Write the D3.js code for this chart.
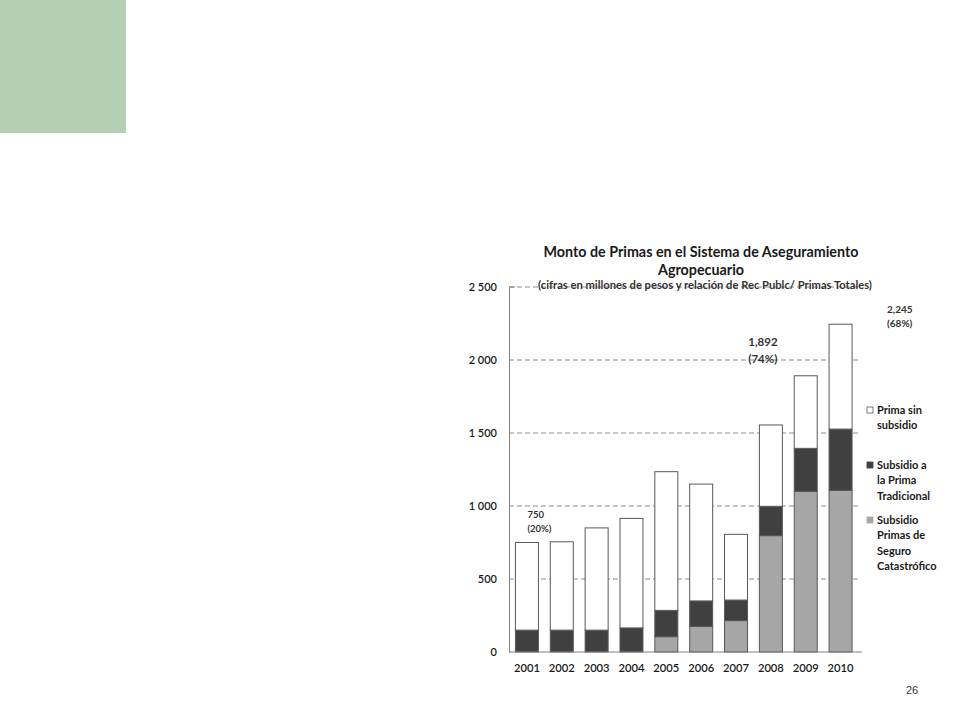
<!DOCTYPE html>
<html><head><meta charset="utf-8">
<script src="https://cdn.jsdelivr.net/npm/d3@7"></script>
<style>body{margin:0;background:#fff;} svg{display:block;}</style>
</head><body>
<svg id="c" width="960" height="720"></svg>
<script>
const years = ["2001","2002","2003","2004","2005","2006","2007","2008","2009","2010"];
const catastrofico = [0,0,0,0,105,175,215,797,1100,1107];
const tradicional = [150,150,150,165,180,175,141,201,295,420];
const sinSubsidio = [600,605,700,750,950,800,450,557,497,718];
const yTicks = [0,500,1000,1500,2000,2500];
const seriesNames = ["Subsidio Primas de Seguro Catastrófico","Subsidio a la Prima Tradicional","Prima sin subsidio"];
const annotations = [
  {year:"2001", lines:["750","(20%)"]},
  {year:"2009", lines:["1,892","(74%)"]},
  {year:"2010", lines:["2,245","(68%)"]}
];

const svg = d3.select("#c");
const font = "Lato, 'Open Sans', sans-serif";
svg.append("rect").attr("x",0).attr("y",0).attr("width",126).attr("height",133).attr("fill","#b3d1b2");

const x = d3.scaleBand().domain(years).range([509.5, 858]).paddingInner(0.34).paddingOuter(0.17);
const y = d3.scaleLinear().domain([0,2500]).range([652, 287]);

// gridlines
svg.append("g").selectAll("line").data(yTicks.filter(d=>d>0)).join("line")
  .attr("x1",509).attr("x2",858).attr("y1",d=>y(d)).attr("y2",d=>y(d))
  .attr("stroke","#8c8c8c").attr("stroke-width",1).attr("stroke-dasharray","5,3");

// title
const tg = svg.append("g").attr("font-family",font).attr("fill","#1a1a1a").attr("text-anchor","middle");
tg.append("text").attr("x",701).attr("y",257).attr("font-size",14.3).attr("font-weight","bold").text("Monto de Primas en el Sistema de Aseguramiento");
tg.append("text").attr("x",701).attr("y",275).attr("font-size",14.3).attr("font-weight","bold").text("Agropecuario");
tg.append("text").attr("x",705).attr("y",289).attr("font-size",11.2).attr("font-weight","bold").attr("fill","#333").text("(cifras en millones de pesos y relación de Rec Publc/ Primas Totales)");

// stacked data
const data = years.map((yr,i)=>({year:yr, cat:catastrofico[i], trad:tradicional[i], sin:sinSubsidio[i]}));
const stack = d3.stack().keys(["cat","trad","sin"])(data);
const fills = {cat:"#a6a6a6", trad:"#404040", sin:"#ffffff"};
const g = svg.append("g");
stack.forEach(layer=>{
  g.selectAll(null).data(layer.filter(d=>d[1]-d[0]>0)).join("rect")
    .attr("x",d=>x(d.data.year)).attr("width",x.bandwidth())
    .attr("y",d=>y(d[1])).attr("height",d=>y(d[0])-y(d[1]))
    .attr("fill",fills[layer.key]).attr("stroke","#595959").attr("stroke-width",1);
});

// axes
const yAxis = d3.axisLeft(y).tickValues(yTicks).tickSize(0).tickPadding(12)
  .tickFormat(d=>d3.format(",")(d).replace(",", " "));
const ya = svg.append("g").attr("transform","translate(509,0)").call(yAxis);
ya.select(".domain").attr("stroke","#808080");
ya.selectAll("text").attr("font-family",font).attr("font-size",11).attr("font-weight","600").attr("fill","#1a1a1a");
svg.append("line").attr("x1",509).attr("x2",515).attr("y1",y(2500)).attr("y2",y(2500)).attr("stroke","#808080");

const xAxis = d3.axisBottom(x).tickSize(0).tickPadding(12);
const xa = svg.append("g").attr("transform","translate(0,652)").call(xAxis);
xa.select(".domain").attr("stroke","#808080").attr("d","M509,0H862");
xa.selectAll("text").attr("font-family",font).attr("font-size",11.2).attr("font-weight","600").attr("fill","#1a1a1a");

// annotations
const ann = [
  {a:annotations[0], dx:12, y0:518, dy:14, size:9.5, anchor:"start"},
  {a:annotations[1], dx:-46, y0:346, dy:17, size:11.5, anchor:"start"},
  {a:annotations[2], dx:58, y0:313, dy:14, size:10, anchor:"start"}
];
ann.forEach(o=>{
  const t = svg.append("text").attr("font-family",font).attr("font-weight","bold").attr("font-size",o.size).attr("fill","#333");
  o.a.lines.forEach((l,i)=>t.append("tspan").attr("x",x(o.a.year)+o.dx).attr("y",o.y0+i*o.dy).text(l));
});

// legend
const legend = [
  {key:"sin", lines:["Prima sin","subsidio"], y0:414},
  {key:"trad", lines:["Subsidio a","la Prima","Tradicional"], y0:469},
  {key:"cat", lines:["Subsidio","Primas de","Seguro","Catastrófico"], y0:524}
];
legend.forEach((L,k)=>{
  svg.append("rect").attr("x",867).attr("y",L.y0-7).attr("width",6).attr("height",6)
    .attr("fill",fills[L.key]).attr("stroke",L.key==="sin"?"#595959":fills[L.key]).attr("stroke-width",0.8);
  const t = svg.append("text").attr("font-family",font).attr("font-size",11).attr("font-weight","bold").attr("fill","#1a1a1a");
  L.lines.forEach((l,i)=>t.append("tspan").attr("x",877).attr("y",L.y0+i*15.3).text(l));
});

svg.append("text").attr("x",906).attr("y",694).attr("font-family","Liberation Sans, Arial, sans-serif").attr("font-size",11).attr("fill","#333").text("26");
</script>
</body></html>
